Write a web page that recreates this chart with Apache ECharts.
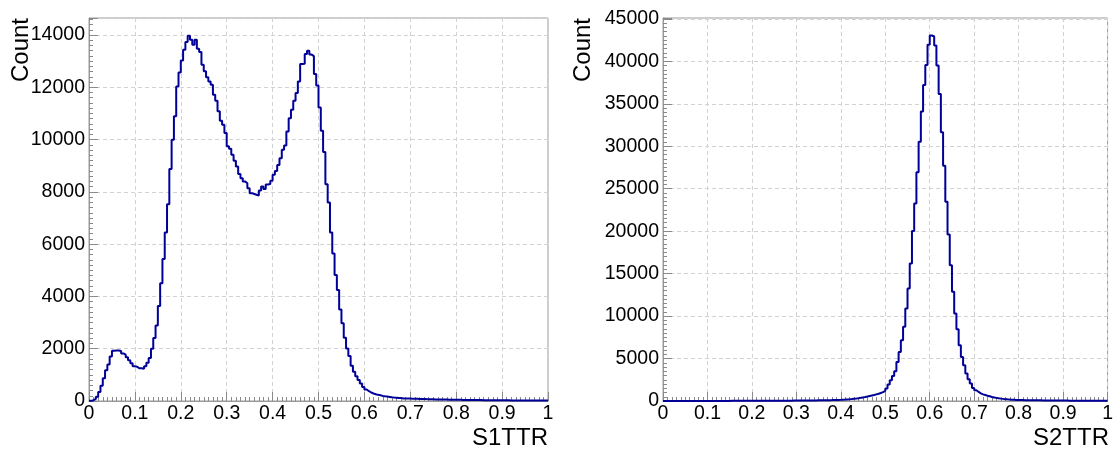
<!DOCTYPE html>
<html lang="en">
<head>
  <meta charset="utf-8">
  <title>S1TTR / S2TTR</title>
  <script type="text/javascript" src="https://fastly.jsdelivr.net/npm/echarts@6/dist/echarts.min.js"></script>
  <style type="text/css">
    * {
      margin: 0;
      padding: 0;
    }
    html, body, #main {
      width: 100%;
      height: 100%;
      overflow: hidden;
      background: #fff;
    }
  </style>
</head>
<body>
  <div id="main"></div>
  <script type="text/javascript">
    // 200 bins from 0 to 1, counts
    var binWidth = 0.005;
    var s1ttrCounts = [
      5, 30, 80, 160, 340, 580, 870, 1180, 1400, 1700,
      1920, 1930, 1930, 1910, 1820, 1770, 1670, 1560, 1440, 1330,
      1310, 1250, 1250, 1230, 1330, 1460, 1640, 2000, 2410, 2890,
      3630, 4500, 5430, 6450, 7530, 8870, 9990, 10890, 12030, 12570,
      13020, 13440, 13730, 13970, 13820, 13630, 13820, 13470, 13350, 12860,
      12610, 12380, 12220, 12100, 11710, 11480, 11080, 10720, 10570, 10250,
      9740, 9650, 9420, 9190, 8970, 8680, 8520, 8400, 8330, 8140,
      7950, 7920, 7890, 7860, 8050, 8200, 8110, 8280, 8300, 8420,
      8650, 8800, 9030, 9290, 9610, 9770, 10310, 10820, 11140, 11480,
      11780, 12220, 12890, 12900, 13270, 13400, 13250, 13190, 12510, 12070,
      11230, 10340, 9520, 8290, 7590, 6450, 5640, 4820, 4250, 3500,
      2970, 2420, 2010, 1720, 1350, 1120, 950, 800, 670, 540,
      440, 375, 325, 287, 260, 235, 220, 195, 180, 170,
      155, 140, 130, 128, 115, 112, 100, 98, 95, 92,
      85, 84, 82, 80, 78, 75, 72, 70, 68, 66,
      62, 60, 58, 56, 55, 53, 51, 50, 48, 47,
      45, 44, 43, 41, 40, 39, 38, 37, 36, 35,
      34, 33, 32, 31, 30, 29, 28, 28, 27, 26,
      25, 25, 24, 23, 23, 22, 21, 21, 20, 20,
      19, 19, 18, 18, 17, 17, 16, 16, 15, 15
    ];
    var s2ttrCounts = [
      2, 3, 3, 4, 4, 5, 5, 5, 6, 6,
      6, 7, 7, 7, 8, 8, 8, 9, 9, 9,
      10, 10, 11, 11, 12, 12, 13, 13, 14, 14,
      15, 15, 16, 17, 17, 18, 19, 19, 20, 21,
      22, 23, 24, 25, 26, 27, 28, 29, 30, 31,
      33, 34, 35, 37, 38, 40, 42, 43, 45, 47,
      49, 52, 54, 57, 60, 63, 66, 70, 73, 77,
      81, 86, 91, 96, 102, 108, 115, 122, 130, 139,
      153, 170, 190, 212, 240, 270, 300, 335, 375, 420,
      466, 520, 580, 640, 700, 780, 860, 950, 1040, 1200,
      1458, 1930, 2441, 2951, 3503, 4602, 5781, 7157, 8730, 10894,
      13250, 16195, 20007, 23270, 26925, 30540, 34077, 37222, 39580, 41937,
      43038, 42920, 41860, 39500, 36160, 31640, 27710, 23466, 19615, 15999,
      12855, 10300, 8453, 6567, 5191, 4209, 3227, 2558, 2048, 1536,
      1262, 1065, 900, 780, 700, 620, 550, 470, 420, 370,
      320, 280, 250, 220, 195, 175, 160, 145, 130, 120,
      110, 105, 100, 96, 92, 88, 84, 80, 77, 74,
      71, 68, 65, 62, 60, 57, 55, 53, 51, 49,
      47, 45, 43, 41, 40, 38, 37, 35, 34, 33,
      31, 30, 29, 28, 27, 26, 25, 24, 23, 22
    ];
    var s1YMax = 14650, s1YStep = 2000;
    var s2YMax = 45100, s2YStep = 5000;

    var font = 'Liberation Sans, Arial, Helvetica, sans-serif';
    var frameColor = '#9a9a9a';
    var tickColor = '#8a8a8a';
    var gridColor = '#d2d2d2';
    var lineColor = '#000099';

    // bin lower edges, plus the closing edge at 1
    function toSteps(counts) {
      var pts = counts.map(function (v, i) {
        return [+(i * binWidth).toFixed(3), v];
      });
      pts.push([1, counts[counts.length - 1]]);
      return pts;
    }

    function xAxisFor(idx) {
      return {
        type: 'value', gridIndex: idx, min: 0, max: 1, interval: 0.1,
        axisLine: { show: true, onZero: false, lineStyle: { color: frameColor, width: 1 } },
        axisTick: { show: true, inside: true, length: 9, lineStyle: { color: tickColor } },
        minorTick: { show: true, splitNumber: 10, length: 4, lineStyle: { color: tickColor } },
        axisLabel: { color: '#000', fontSize: 19.5, fontFamily: font, margin: 3 },
        splitLine: { show: true, lineStyle: { color: gridColor, type: [4, 3], width: 1 } }
      };
    }

    function yAxisFor(idx, max, step) {
      return {
        type: 'value', gridIndex: idx, min: 0, max: max, interval: step,
        axisLine: { show: true, onZero: false, lineStyle: { color: frameColor, width: 1 } },
        axisTick: { show: true, inside: true, length: 9, lineStyle: { color: tickColor } },
        minorTick: { show: true, splitNumber: 10, length: 4, lineStyle: { color: tickColor } },
        axisLabel: {
          color: '#000', fontSize: 19.5, fontFamily: font, margin: 4,
          formatter: function (v) { return v % step === 0 ? String(v) : ''; }
        },
        splitLine: { show: true, lineStyle: { color: gridColor, type: [4, 3], width: 1 } }
      };
    }

    function histSeries(idx, counts) {
      return {
        type: 'line', xAxisIndex: idx, yAxisIndex: idx,
        data: toSteps(counts), step: 'end',
        symbol: 'none', showSymbol: false, silent: true,
        lineStyle: { color: lineColor, width: 2 }
      };
    }

    function title(text, x, y, rotated) {
      return {
        type: 'text', x: x, y: y, rotation: rotated ? Math.PI / 2 : 0,
        style: {
          text: text, fill: '#000', fontSize: 24, fontFamily: font,
          align: 'right', verticalAlign: 'middle'
        }
      };
    }

    var option = {
      animation: false,
      backgroundColor: '#fff',
      grid: [
        { left: 89, top: 18, width: 459, height: 383, show: true, borderColor: frameColor, borderWidth: 1 },
        { left: 663, top: 18, width: 446, height: 383, show: true, borderColor: frameColor, borderWidth: 1 }
      ],
      xAxis: [xAxisFor(0), xAxisFor(1)],
      yAxis: [yAxisFor(0, s1YMax, s1YStep), yAxisFor(1, s2YMax, s2YStep)],
      series: [histSeries(0, s1ttrCounts), histSeries(1, s2ttrCounts)],
      graphic: [
        title('Count', 21, 18, true),
        title('Count', 583, 18, true),
        title('S1TTR', 548, 438, false),
        title('S2TTR', 1109, 438, false)
      ]
    };

    var chart = echarts.init(document.getElementById('main'));
    chart.setOption(option);
  </script>
</body>
</html>
